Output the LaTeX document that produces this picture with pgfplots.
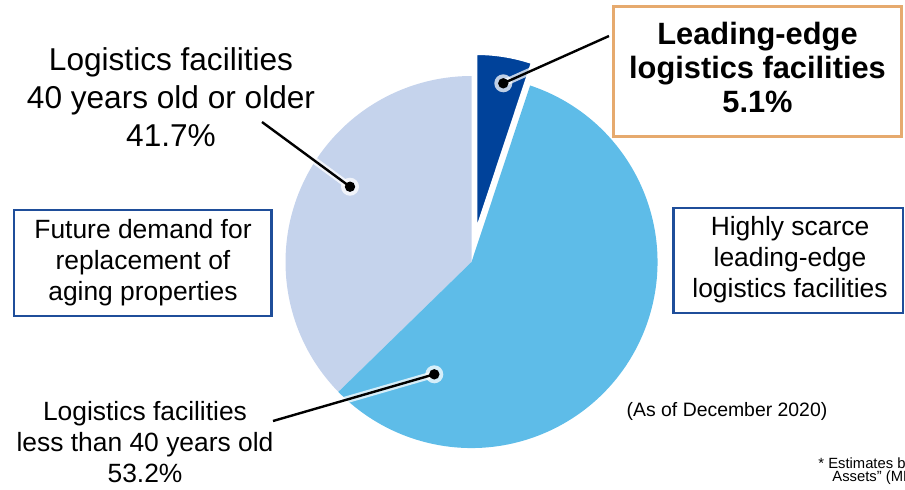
\documentclass[border=0pt]{standalone}
\usepackage{pgfplots}
\pgfplotsset{compat=1.18}
\usepackage{fontspec}
\setmainfont{Liberation Sans}
\definecolor{pieDark}{HTML}{00429A}
\definecolor{pieSky}{HTML}{5EBCE8}
\definecolor{piePale}{HTML}{C5D3EC}
\definecolor{boxBlue}{HTML}{1F4E9A}
\definecolor{boxTan}{HTML}{E6AA6E}

% slice shares (%), as drawn in the chart
\def\sDark{5.1}
\def\sSky{57.6}
\def\sPale{37.3}
\pgfmathsetmacro\aA{90-3.6*\sDark}
\pgfmathsetmacro\aB{\aA-3.6*\sSky}

\tikzset{
  halo/.style={white, line width=3.5pt, opacity=0.75, line cap=round},
  leader/.style={black, line width=1.2pt}
}

\begin{document}
\begin{tikzpicture}
\begin{axis}[at={(0,0)}, anchor=south west, width=452.5pt, height=244.5pt, scale only axis,
  xmin=0, xmax=905, ymin=0, ymax=489, y dir=reverse, hide axis, clip=false]
% pie
\fill[piePale] (axis cs:471.5,262) -- ++(\aB:93pt) arc[start angle=\aB, end angle=-270, radius=93pt] -- cycle;
\fill[pieSky] (axis cs:471.5,262) -- ++(\aA:93pt) arc[start angle=\aA, end angle=\aB, radius=93pt] -- cycle;
\filldraw[fill=pieDark, draw=white, line width=1pt] (axis cs:476.3,230) -- ++(90:88pt) arc[start angle=90, end angle=\aA, radius=88pt] -- cycle;

% leader lines
\draw[halo] (axis cs:503.3,83.3) -- (axis cs:609,36);
\draw[halo] (axis cs:350,186.7) -- (axis cs:262,122);
\draw[halo] (axis cs:434.3,374.3) -- (axis cs:273,421);
\fill[white, opacity=0.75] (axis cs:503.3,83.3) circle[radius=4.5pt];
\fill[white, opacity=0.75] (axis cs:350,186.7) circle[radius=4.5pt];
\fill[white, opacity=0.75] (axis cs:434.3,374.3) circle[radius=4.5pt];
\draw[leader] (axis cs:503.3,83.3) -- (axis cs:609,36);
\draw[leader] (axis cs:350,186.7) -- (axis cs:262,122);
\draw[leader] (axis cs:434.3,374.3) -- (axis cs:273,421);
\fill[black] (axis cs:503.3,83.3) circle[radius=2.6pt];
\fill[black] (axis cs:350,186.7) circle[radius=2.6pt];
\fill[black] (axis cs:434.3,374.3) circle[radius=2.6pt];

% boxes
\draw[boxTan, line width=1.5pt, fill=white] (axis cs:613,6) rectangle (axis cs:901,136);
\draw[boxBlue, line width=1.1pt] (axis cs:14,210) rectangle (axis cs:271.5,316);
\draw[boxBlue, line width=1.1pt] (axis cs:673.5,208) rectangle (axis cs:903,313);

% texts
\node[align=center, font=\fontsize{15.4pt}{17pt}\selectfont\bfseries] at (axis cs:757.5,67)
  {Leading-edge\\logistics facilities\\5.1\%};
\node[align=center, font=\fontsize{15.8pt}{19pt}\selectfont] at (axis cs:171,97)
  {Logistics facilities\\40 years old or older\\41.7\%};
\node[align=center, font=\fontsize{13.2pt}{15.5pt}\selectfont] at (axis cs:143,263)
  {Future demand for\\replacement of\\aging properties};
\node[align=center, font=\fontsize{13.2pt}{15.5pt}\selectfont] at (axis cs:790,260)
  {Highly scarce\\leading-edge\\logistics facilities};
\node[align=center, font=\fontsize{13.2pt}{15.5pt}\selectfont] at (axis cs:145,442)
  {Logistics facilities\\less than 40 years old\\53.2\%};
\node[font=\fontsize{9.7pt}{11pt}\selectfont] at (axis cs:727,411) {(As of December 2020)};
\node[anchor=west, inner sep=0pt, font=\fontsize{7.4pt}{8.5pt}\selectfont] at (axis cs:818,465) {* Estimates by};
\node[anchor=west, inner sep=0pt, font=\fontsize{7.4pt}{8.5pt}\selectfont] at (axis cs:832,478) {Assets" (MLIT)};
\end{axis}
\pgfresetboundingbox
\path (0,0) rectangle (452.5pt,244.5pt);
\end{tikzpicture}
\end{document}
